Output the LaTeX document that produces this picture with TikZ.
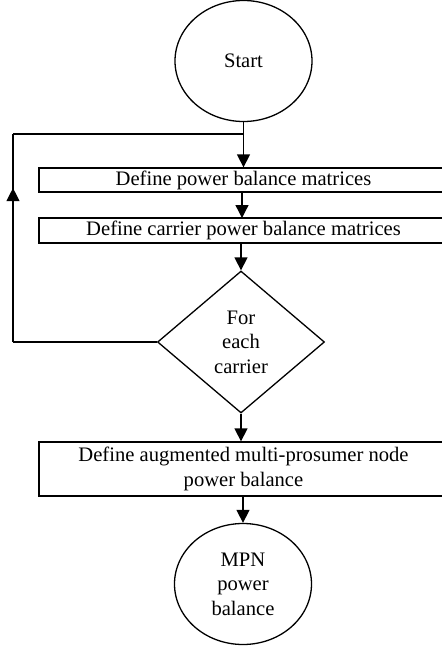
\documentclass[tikz,border=0pt]{standalone}
\usepackage{fontspec}
\setmainfont{Liberation Serif}
\usetikzlibrary{shapes.geometric,decorations.markings,arrows.meta,positioning}

\begin{document}
\begin{tikzpicture}[x=0.5pt,y=-0.5pt,line width=0.65pt,
        >={Triangle[length=6.5pt,width=6.5pt]},
        every node/.style={draw,align=center,inner sep=0,font=\fontsize{10.3}{12.3}\selectfont},
        terminal/.style={shape=ellipse,minimum width=68.5pt,minimum height=60.5pt},
        stepbox/.style={shape=rectangle,minimum width=204.5pt},
        decision/.style={shape=diamond,minimum width=83.5pt,minimum height=71pt},
        flow/.style={->},
        uparrow/.style={postaction={decorate,decoration={markings,mark=at position 0.74 with {\arrow{>}}}}},
        ]
\useasboundingbox (0,0) rectangle (441,649);

\node [terminal] (start) at (243.5,61) {Start};
\node [stepbox, minimum height=12pt] (power) at (243.5,180) {Define power balance matrices};
\node [stepbox, minimum height=12.5pt] (carrier) at (243.5,230.5) {Define carrier power balance matrices};
\node [decision] (each) at (241,342) {For\\each\\carrier};
\node [stepbox, minimum height=27pt] (augment) at (243.5,469) {Define augmented multi-prosumer node\\power balance};
\node [terminal] (mpn) at (243,584) {MPN\\power\\balance};

\coordinate (loopbot) at (13,342);
\coordinate (looptop) at (13,134);
\coordinate (join) at (243.5,134);

    \draw[flow] (start.south) -- (start.south |- power.north);
    \draw[flow] (242,192) -- (242,218);
    \draw[flow] (241,243) -- (each.north);
    \draw[flow] (each.south) -- (each.south |- augment.north);
    \draw[flow] (243,496) -- (mpn.north);

    \draw (each.west) -- (loopbot);
    \path[draw,uparrow] (loopbot) -- (looptop);
    \draw (looptop) -- (join);

\end{tikzpicture}
\end{document}
